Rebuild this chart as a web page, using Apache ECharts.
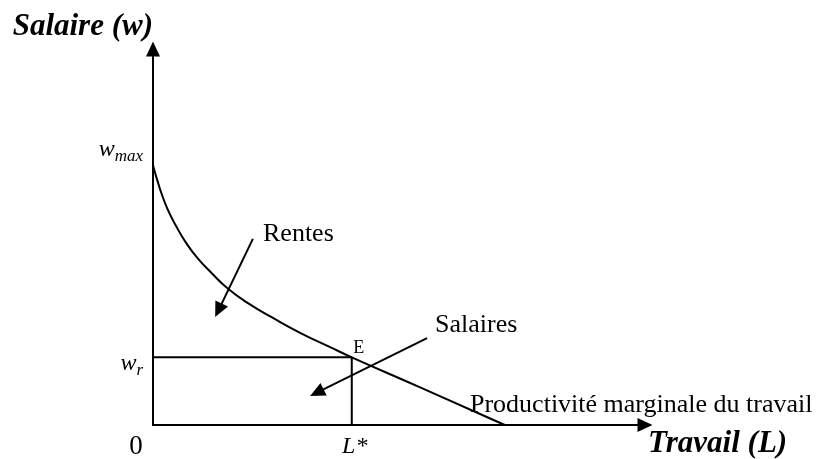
<!DOCTYPE html>
<html>
<head>
<meta charset="utf-8">
<title>Salaire et travail</title>
<script src="https://cdn.jsdelivr.net/npm/echarts@6.0.0/dist/echarts.min.js"></script>
<style>
html, body { margin: 0; padding: 0; background: #fff; }
#chart { width: 823px; height: 459px; }
</style>
</head>
<body>
<div id="chart"></div>
<script>
// courbe de productivité marginale du travail (L, w)
var curveL = [0, 0.8, 1.8, 3.0, 4.7, 6.7, 9.1, 12.0, 15.2, 19.3, 24.2, 29.9, 36.0, 40.4, 54.3, 71.5];
var curveW = [69.1, 65.4, 61.3, 57.3, 52.9, 48.5, 44.3, 40.3, 36.3, 32.4, 28.6, 24.5, 20.7, 18.0, 10.0, 0];
var wMax = 69.1;
var wR = 18.0;
var lStar = 40.4;
// flèches : [L départ, w départ, L pointe, w pointe]
var arrowRentes = [20.3, 49.5, 13.3, 30.5];
var arrowSalaires = [55.7, 23.1, 33.3, 8.6];
var yTicks = [wMax, wR];
var xTicks = [0, lStar];

var serif = "'Liberation Serif', 'Times New Roman', serif";
var black = '#000';

var myChart = echarts.init(document.getElementById('chart'));

var option = {
    backgroundColor: '#fff',
    animation: false,
    grid: { left: 153, right: 178, top: 49, bottom: 34, outerBoundsMode: 'none' },
    xAxis: {
        type: 'value',
        min: 0,
        max: 100,
        name: 'Travail (L)',
        nameLocation: 'end',
        nameGap: 3,
        nameMoveOverlap: false,
        nameTextStyle: {
            fontFamily: serif, fontSize: 31, fontWeight: 'bold', fontStyle: 'italic',
            color: black, align: 'left', verticalAlign: 'top', padding: [3, 0, 0, 0]
        },
        axisLine: {
            onZero: false,
            symbol: ['none', 'triangle'],
            symbolSize: [14, 15],
            lineStyle: { color: black, width: 2 }
        },
        axisTick: { show: false },
        splitLine: { show: false },
        axisLabel: {
            customValues: xTicks,
            margin: 8,
            formatter: function (v) {
                return v === 0 ? '{zero|0}' : '{ls|L*}';
            },
            rich: {
                zero: { fontFamily: serif, fontSize: 27, color: black, padding: [0, 34, 0, 0] },
                ls: { fontFamily: serif, fontSize: 24, fontStyle: 'italic', color: black, padding: [2, 0, 0, 6] }
            }
        }
    },
    yAxis: {
        type: 'value',
        min: 0,
        max: 100,
        name: 'Salaire (w)',
        nameLocation: 'end',
        nameGap: 7,
        nameMoveOverlap: false,
        nameTextStyle: {
            fontFamily: serif, fontSize: 31, fontWeight: 'bold', fontStyle: 'italic',
            color: black, align: 'right', verticalAlign: 'bottom'
        },
        axisLine: {
            onZero: false,
            symbol: ['none', 'triangle'],
            symbolSize: [14, 15],
            lineStyle: { color: black, width: 2 }
        },
        axisTick: { show: false },
        splitLine: { show: false },
        axisLabel: {
            customValues: yTicks,
            margin: 10,
            formatter: function (v) {
                return v === wMax ? '{wa|w}{sa|max}' : '{wb|w}{sb|r}';
            },
            rich: {
                wa: { fontFamily: serif, fontSize: 24, fontStyle: 'italic', color: black, verticalAlign: 'middle', padding: [0, 0, 31, 0] },
                sa: { fontFamily: serif, fontSize: 17, fontStyle: 'italic', color: black, verticalAlign: 'middle', padding: [14, 0, 31, 0] },
                wb: { fontFamily: serif, fontSize: 24, fontStyle: 'italic', color: black, verticalAlign: 'middle', padding: [12, 0, 0, 0] },
                sb: { fontFamily: serif, fontSize: 17, fontStyle: 'italic', color: black, verticalAlign: 'middle', padding: [26, 0, 0, 0] }
            }
        }
    },
    series: [
        {
            name: 'productivite',
            type: 'line',
            data: curveL.map(function (l, i) { return [l, curveW[i]]; }),
            smooth: 0.5,
            showSymbol: false,
            silent: true,
            lineStyle: { color: black, width: 2 }
        },
        {
            name: 'equilibre',
            type: 'line',
            data: [[0, wR], [lStar, wR], [lStar, 0]],
            showSymbol: false,
            silent: true,
            lineStyle: { color: black, width: 2 },
            markPoint: {
                silent: true,
                symbolSize: 0,
                data: [{ coord: [lStar, wR] }],
                label: {
                    show: true,
                    formatter: 'E',
                    position: 'top',
                    distance: 0,
                    offset: [7, 0],
                    fontFamily: serif,
                    fontSize: 18,
                    color: black
                }
            },
            markLine: {
                silent: true,
                symbol: ['none', 'triangle'],
                symbolSize: [14, 15],
                label: { show: false },
                lineStyle: { color: black, width: 2, type: 'solid' },
                data: [
                    [{ coord: [arrowRentes[0], arrowRentes[1]] }, { coord: [arrowRentes[2], arrowRentes[3]] }],
                    [{ coord: [arrowSalaires[0], arrowSalaires[1]] }, { coord: [arrowSalaires[2], arrowSalaires[3]] }]
                ]
            }
        }
    ],
    graphic: [
        { type: 'text', x: 263, y: 234, silent: true, style: { text: 'Rentes', font: '26px ' + serif, fill: black, verticalAlign: 'middle' } },
        { type: 'text', x: 435, y: 325, silent: true, style: { text: 'Salaires', font: '26px ' + serif, fill: black, verticalAlign: 'middle' } },
        { type: 'text', x: 470, y: 405, silent: true, style: { text: 'Productivité marginale du travail', font: '26px ' + serif, fill: black, verticalAlign: 'middle' } }
    ]
};

option && myChart.setOption(option);
window.addEventListener('resize', function () {
    myChart.resize();
});
</script>
</body>
</html>
